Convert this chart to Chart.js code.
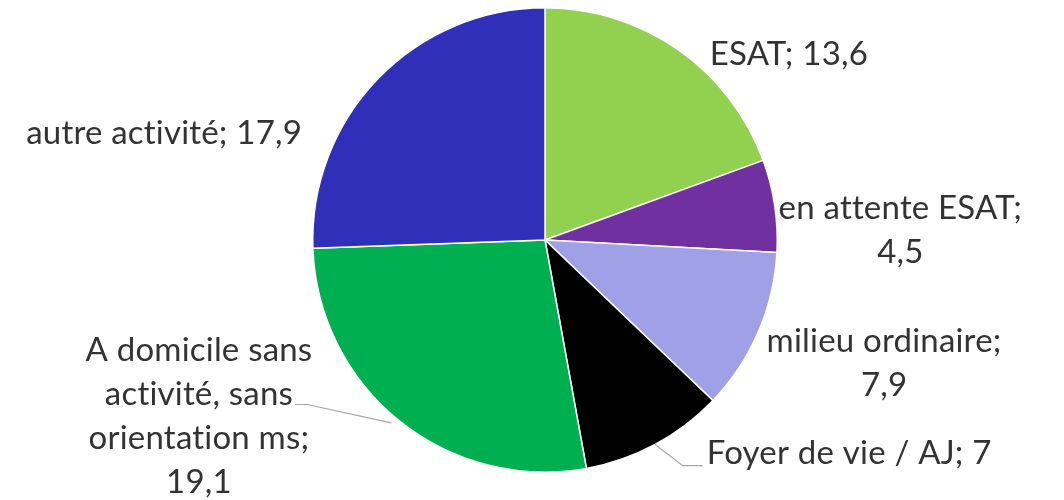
<!DOCTYPE html>
<html>
<head>
    <title>Répartition par activité</title>
    <script src="https://cdn.jsdelivr.net/npm/chart.js"></script>
    <style>
        html, body { margin: 0; padding: 0; background: #fff; }
        #wrap { width: 1064px; height: 500px; }
    </style>
</head>
<body>
    <div id="wrap"><canvas id="myChart"></canvas></div>

    <script>
        // data
        const categories = ['ESAT', 'en attente ESAT', 'milieu ordinaire', 'Foyer de vie / AJ', 'A domicile sans activité, sans orientation ms', 'autre activité'];
        const values = [13.6, 4.5, 7.9, 7, 19.1, 17.9];
        const valueLabels = ['13,6', '4,5', '7,9', '7', '19,1', '17,9'];

        const colors = ['#92d050', '#7030a0', '#a0a0e6', '#000000', '#00b050', '#2f2fba'];

        // label text lines, and where each one sits (in radius units from the centre)
        const labelLines = [
            ['ESAT; 13,6'],
            ['en attente ESAT;', '4,5'],
            ['milieu ordinaire;', '7,9'],
            ['Foyer de vie / AJ; 7'],
            ['A domicile sans', 'activité, sans', 'orientation ms;', '19,1'],
            ['autre activité; 17,9']
        ];
        const labelPos = [
            [1.05, -0.80], [1.53, -0.04], [1.46, 0.53],
            [1.31, 0.92], [-1.49, 0.76], [-1.64, -0.46]
        ];

        // draws the outside labels, with leader lines for two of them
        const outsideLabels = {
            id: 'outsideLabels',
            afterDatasetsDraw(chart) {
                const ctx = chart.ctx;
                const arcs = chart.getDatasetMeta(0).data;
                ctx.save();
                ctx.font = '33px Lato';
                ctx.letterSpacing = '0.2px'; // stops the "tt" ligature
                ctx.fillStyle = '#333333';
                ctx.textAlign = 'center';
                ctx.textBaseline = 'middle';
                const lh = 44;
                arcs.forEach((arc, i) => {
                    const r = arc.outerRadius;
                    const cx = arc.x + labelPos[i][0] * r;
                    const cy = arc.y + labelPos[i][1] * r;
                    const lines = labelLines[i];
                    const y0 = cy - (lines.length - 1) * lh / 2;
                    lines.forEach((t, k) => ctx.fillText(t, cx, y0 + k * lh));

                    const mid = (arc.startAngle + arc.endAngle) / 2;
                    const px = arc.x + Math.cos(mid) * r;
                    const py = arc.y + Math.sin(mid) * r;
                    ctx.strokeStyle = '#a6a6a6';
                    ctx.lineWidth = 1.2;
                    if (i === 3) {
                        const w = ctx.measureText(lines[0]).width;
                        const lx = cx - w / 2 - 4;
                        ctx.beginPath();
                        ctx.moveTo(px, py);
                        ctx.lineTo(lx - 20, cy + 12);
                        ctx.lineTo(lx, cy + 12);
                        ctx.stroke();
                    }
                    if (i === 4) {
                        const w = ctx.measureText(lines[1]).width;
                        const lx = cx + w / 2 + 2;
                        const ly = y0 + lh + 10;
                        ctx.beginPath();
                        ctx.moveTo(px - 8, py + 2);
                        ctx.lineTo(lx + 12, ly);
                        ctx.lineTo(lx, ly);
                        ctx.stroke();
                    }
                });
                ctx.restore();
            }
        };

        const ctx = document.getElementById('myChart').getContext('2d');
        window.myChart = new Chart(ctx, {
            type: 'pie',
            data: {
                labels: categories,
                datasets: [{
                    data: values,
                    backgroundColor: colors,
                    borderColor: '#ffffff',
                    borderWidth: 1.5
                }]
            },
            options: {
                responsive: true,
                maintainAspectRatio: false,
                animation: false,
                layout: { padding: { top: 7, bottom: 27, left: 26, right: 0 } },
                plugins: {
                    legend: { display: false },
                    tooltip: { enabled: false }
                }
            },
            plugins: [outsideLabels]
        });
    </script>
</body>
</html>
